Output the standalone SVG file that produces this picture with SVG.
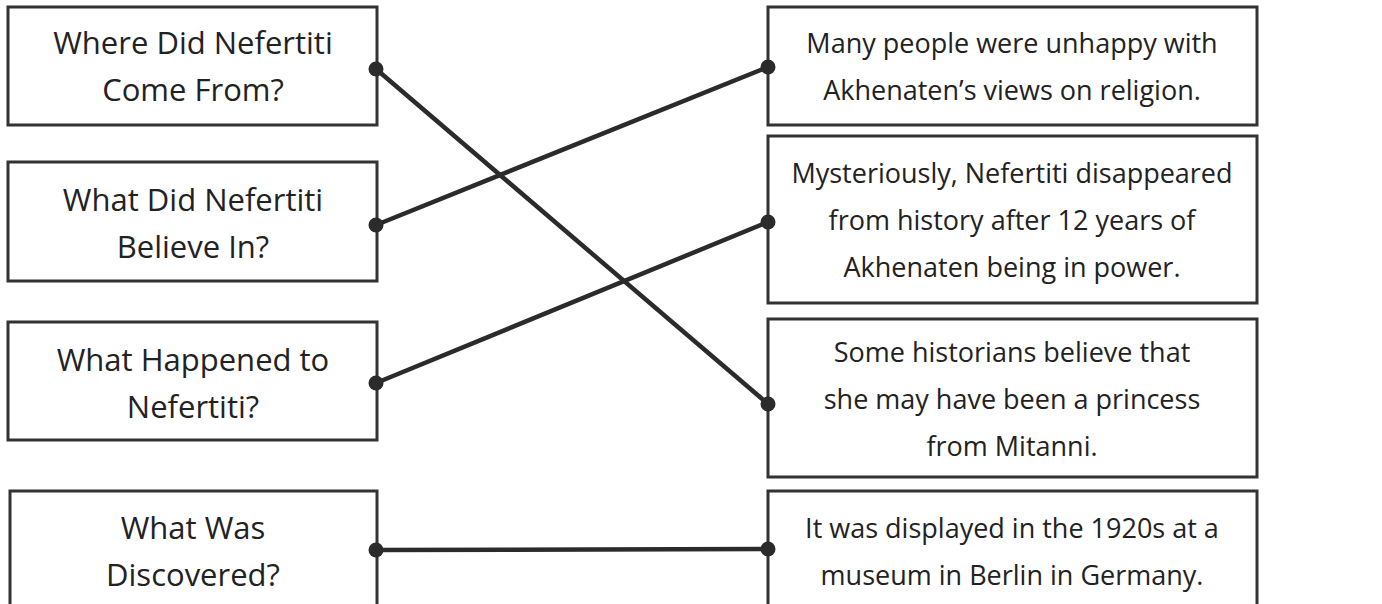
<svg xmlns="http://www.w3.org/2000/svg" width="1382" height="604" viewBox="0 0 1382 604">
<style>
.box{fill:#fff;stroke:#333;stroke-width:3}
.t{font-family:"Open Sans","Liberation Sans",sans-serif;font-size:27px;fill:#222;text-anchor:middle}
.l{font-size:31px}
.c{stroke:#2b2b2b;stroke-width:4.5;fill:none;stroke-linecap:round}
.d{fill:#2b2b2b}
</style>
<rect width="1382" height="604" fill="#fff"/>
<g id="q1"><rect class="box" x="8" y="7" width="369" height="118"/><text class="t l" x="193" y="54">Where Did Nefertiti</text><text class="t l" x="193" y="101">Come From?</text></g>
<g id="q2"><rect class="box" x="8" y="162" width="369" height="119"/><text class="t l" x="193" y="211">What Did Nefertiti</text><text class="t l" x="193" y="258">Believe In?</text></g>
<g id="q3"><rect class="box" x="8" y="322" width="369" height="118"/><text class="t l" x="193" y="371">What Happened to</text><text class="t l" x="193" y="418">Nefertiti?</text></g>
<g id="q4"><rect class="box" x="10" y="491" width="367" height="130"/><text class="t l" x="193" y="539">What Was</text><text class="t l" x="193" y="586">Discovered?</text></g>
<g id="a1"><rect class="box" x="768" y="7" width="489" height="118"/><text class="t" x="1012" y="53">Many people were unhappy with</text><text class="t" x="1012" y="100">Akhenaten’s views on religion.</text></g>
<g id="a2"><rect class="box" x="768" y="136" width="489" height="167"/><text class="t" x="1012" y="183">Mysteriously, Nefertiti disappeared</text><text class="t" x="1012" y="230">from history after 12 years of</text><text class="t" x="1012" y="277">Akhenaten being in power.</text></g>
<g id="a3"><rect class="box" x="768" y="319" width="489" height="158"/><text class="t" x="1012" y="362">Some historians believe that</text><text class="t" x="1012" y="409">she may have been a princess</text><text class="t" x="1012" y="456">from Mitanni.</text></g>
<g id="a4"><rect class="box" x="768" y="491" width="489" height="130"/><text class="t" x="1012" y="538">It was displayed in the 1920s at a</text><text class="t" x="1012" y="585">museum in Berlin in Germany.</text></g>
<g id="connectors">
<line class="c" x1="376" y1="69" x2="768" y2="404"/>
<line class="c" x1="376" y1="225" x2="768" y2="67"/>
<line class="c" x1="376" y1="383" x2="768" y2="222"/>
<line class="c" x1="376" y1="550" x2="768" y2="549"/>
<circle class="d" cx="376" cy="69" r="7.5"/><circle class="d" cx="376" cy="225" r="7.5"/><circle class="d" cx="376" cy="383" r="7.5"/><circle class="d" cx="376" cy="550" r="7.5"/>
<circle class="d" cx="768" cy="67" r="7.5"/><circle class="d" cx="768" cy="222" r="7.5"/><circle class="d" cx="768" cy="404" r="7.5"/><circle class="d" cx="768" cy="549" r="7.5"/>
</g>
</svg>
